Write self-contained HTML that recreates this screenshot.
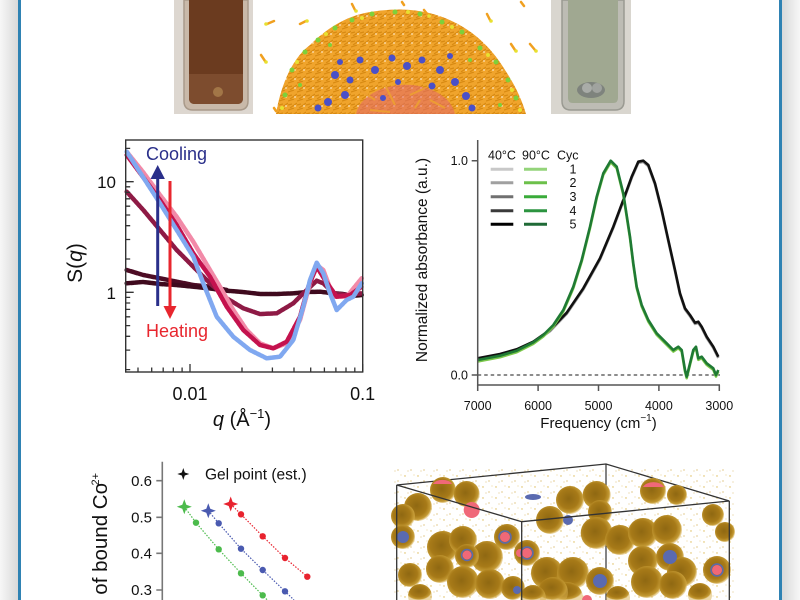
<!DOCTYPE html>
<html><head><meta charset="utf-8"><style>
html,body{margin:0;padding:0;background:#fff;width:800px;height:600px;overflow:hidden;}
svg{display:block;font-family:"Liberation Sans",Arial,sans-serif;overflow:hidden;}
</style></head><body>
<svg width="800" height="600" viewBox="0 0 800 600" xmlns="http://www.w3.org/2000/svg">
<defs>
<linearGradient id="shL" x1="0" x2="1" y1="0" y2="0"><stop offset="0" stop-color="#f7f7f7"/><stop offset="1" stop-color="#d9d9d9"/></linearGradient>
<linearGradient id="shR" x1="0" x2="1" y1="0" y2="0"><stop offset="0" stop-color="#d9d9d9"/><stop offset="1" stop-color="#f7f7f7"/></linearGradient>
<radialGradient id="sg" cx="0.45" cy="0.45" r="0.55"><stop offset="0" stop-color="#8f6812"/><stop offset="0.65" stop-color="#a77a18"/><stop offset="0.9" stop-color="#c49a34"/><stop offset="1" stop-color="#d8b050" stop-opacity="0.5"/></radialGradient>
<pattern id="dots" width="13" height="11" patternUnits="userSpaceOnUse"><circle cx="2" cy="3" r="0.7" fill="#d8b040"/><circle cx="8" cy="8" r="0.6" fill="#caa030"/><circle cx="11" cy="2" r="0.5" fill="#e0c060"/><circle cx="5" cy="9" r="0.5" fill="#d0a840"/></pattern>
<pattern id="mol" width="9" height="9" patternUnits="userSpaceOnUse"><rect width="9" height="9" fill="#f0a42c"/><path d="M0 2 L6 0 M2 9 L9 4 M0 6 L4 5" stroke="#d88a12" stroke-width="1.2"/><circle cx="7" cy="7" r="0.9" fill="#fff" opacity="0.7"/></pattern>
<clipPath id="molclip"><rect x="254" y="0" width="290" height="114"/></clipPath>
</defs>
<rect width="800" height="600" fill="#fff"/>
<rect x="0" y="0" width="18" height="600" fill="url(#shL)"/>
<rect x="782" y="0" width="18" height="600" fill="url(#shR)"/>
<rect x="18" y="0" width="3" height="600" fill="#2f82b3"/>
<rect x="779" y="0" width="3" height="600" fill="#2f82b3"/>

<!-- top: left vial -->
<rect x="174" y="0" width="79" height="114" fill="#ddd7d0"/>
<path d="M184,0 V101 Q184,110 193,110 H239 Q248,110 248,101 V0 Z" fill="#c9b9a9" stroke="#a99a8a" stroke-width="1.5"/>
<path d="M189,0 V98 Q189,104 195,104 H237 Q243,104 243,98 V0 Z" fill="#6b3b1f"/>
<path d="M189,74 V98 Q189,104 195,104 H237 Q243,104 243,98 V74 Z" fill="#7d4c2e"/>
<circle cx="218" cy="92" r="5" fill="#c8a060" opacity="0.5"/>
<!-- top: molecule -->
<g clip-path="url(#molclip)">
<path d="M276,114 C280,90 290,60 310,45 C325,30 345,16 370,12 C395,8 420,8 445,18 C470,28 490,45 505,70 C515,85 522,100 526,114 Z" fill="url(#mol)"/>
<path d="M356,114 A50,34 0 0 1 455,114 Z" fill="#e4686e" opacity="0.55"/>
<g fill="#4a50c8">
<circle cx="335" cy="75" r="4"/><circle cx="345" cy="95" r="4"/><circle cx="360" cy="60" r="3.5"/><circle cx="375" cy="70" r="4"/><circle cx="392" cy="58" r="3.5"/><circle cx="407" cy="66" r="4"/><circle cx="422" cy="60" r="3.5"/><circle cx="440" cy="70" r="4"/><circle cx="455" cy="82" r="4"/><circle cx="466" cy="96" r="4"/><circle cx="328" cy="102" r="4"/><circle cx="350" cy="80" r="3.5"/><circle cx="432" cy="86" r="3.5"/><circle cx="472" cy="108" r="3.5"/><circle cx="318" cy="108" r="3.5"/><circle cx="383" cy="98" r="3"/><circle cx="340" cy="62" r="3"/><circle cx="450" cy="56" r="3"/><circle cx="398" cy="82" r="3"/>
</g>
<g stroke="#eea030" stroke-width="2" opacity="0.9">
<path d="M360 90 L375 100 M385 85 L395 105 M410 95 L425 88 M430 100 L445 108 M370 110 L390 112 M415 108 L420 100"/>
</g>
<g fill="#7ed03a">
<circle cx="292" cy="70" r="2.5"/><circle cx="305" cy="52" r="2.5"/><circle cx="318" cy="40" r="2.5"/><circle cx="335" cy="28" r="2.5"/><circle cx="352" cy="20" r="2.5"/><circle cx="372" cy="14" r="2.5"/><circle cx="395" cy="12" r="2.5"/><circle cx="420" cy="14" r="2.5"/><circle cx="442" cy="22" r="2.5"/><circle cx="462" cy="32" r="2.5"/><circle cx="480" cy="48" r="2.5"/><circle cx="496" cy="62" r="2.5"/><circle cx="508" cy="80" r="2.5"/><circle cx="516" cy="98" r="2.5"/><circle cx="285" cy="95" r="2.5"/><circle cx="300" cy="85" r="2"/><circle cx="500" cy="105" r="2"/><circle cx="470" cy="60" r="2"/><circle cx="330" cy="45" r="2"/>
</g>
<g fill="#e8e030">
<circle cx="297" cy="62" r="2"/><circle cx="326" cy="34" r="2"/><circle cx="362" cy="18" r="2"/><circle cx="408" cy="12" r="2"/><circle cx="452" cy="27" r="2"/><circle cx="488" cy="55" r="2"/><circle cx="512" cy="90" r="2"/><circle cx="282" cy="108" r="2"/><circle cx="520" cy="110" r="2"/>
</g>
<g stroke="#f0a020" stroke-width="2.5" stroke-linecap="round">
<path d="M267 24 L274 21 M300 24 L306 21 M352 4 L355 10 M424 10 L428 15 M487 14 L490 20 M511 44 L515 50 M530 44 L535 50 M261 55 L265 61 M402 2 L404 5 M521 2 L524 6 M274 108 L276 111"/>
</g>
<g fill="#e8e030"><circle cx="266" cy="24" r="1.8"/><circle cx="307" cy="21" r="1.8"/><circle cx="356" cy="11" r="1.8"/><circle cx="429" cy="16" r="1.8"/><circle cx="491" cy="21" r="1.8"/><circle cx="516" cy="51" r="1.8"/><circle cx="536" cy="51" r="1.8"/><circle cx="266" cy="62" r="1.8"/></g>
</g>
<!-- top: right vial -->
<rect x="551" y="0" width="80" height="114" fill="#d9d6cf"/>
<path d="M562,0 V101 Q562,110 571,110 H615 Q624,110 624,101 V0 Z" fill="#bdbcb4" stroke="#9a9a92" stroke-width="1.5"/>
<path d="M568,0 V98 Q568,103 573,103 H613 Q618,103 618,98 V0 Z" fill="#a0a891"/>
<ellipse cx="591" cy="90" rx="14" ry="8" fill="#7e837d"/>
<ellipse cx="587" cy="88" rx="5" ry="5" fill="#a9aca8"/>
<ellipse cx="597" cy="88" rx="5" ry="5" fill="#a0a39f"/>

<!-- ===== Panel SAXS ===== -->
<g fill="none" stroke-linecap="round" stroke-linejoin="round" stroke-width="4.5" stroke-dasharray="3 1.2">
<polyline stroke="#4d0c25" points="126.7,270 143.3,275 160,278.3 176.7,281.7 193.3,285 210,286.7 226.7,290"/>
<polyline stroke="#3f0a1e" points="126.7,283.3 143,282 160,284 176,285 193.3,286.7 210,288.5 226.7,290.7 243,292 260,294 277,294 293.3,293.3 307,292 320,291.7 331,293 343.3,294 352,296 361.7,295"/>
<polyline stroke="#8e1a45" points="126.7,191.7 143.3,210 160,230 176.7,250 193.3,266.7 210,283.3 226.7,298.3 243.3,308.3 260,314 276.7,313.3 293.3,303.3 303.3,293.3 316.7,280.7 323.3,283.3 333.3,293.3 346.7,295 361.7,293.3"/>
<polyline stroke="#f28aa8" points="126.7,151.7 143,172 160,195 176.7,216.7 193.3,241.7 210,270 220,286.7 233.3,310 246.7,330 260,343.3 273.3,348.3 286.7,343.3 300,320 310,283.3 316.7,265 323.3,270 333.3,296.7 346.7,296.7 361.7,278.3"/>
<polyline stroke="#c4124e" points="126.7,155 143,177 160,200 176.7,225 193.3,253.3 210,276.7 226.7,306.7 243.3,330 260,345 273.3,348.3 286.7,341.7 300,316.7 308.3,286.7 316.7,266.7 325,280 336.7,296.7 350,295 361.7,286.7"/>
<polyline stroke="#80a8f0" points="126.7,151.7 143,177 160,203.3 176.7,230 193.3,256.7 203.3,283.3 216.7,316.7 233.3,336.7 250,350 266.7,358.3 280,356.7 293.3,340 303.3,306.7 310,280 316.7,262.7 323.3,273.3 330,293.3 336.7,310 346.7,300 353.3,296.7 361.7,283.3"/>
</g>
<!-- arrows -->
<line x1="157.7" y1="306" x2="157.7" y2="176" stroke="#2a2f8a" stroke-width="3"/>
<polygon points="157.7,165 150.5,179 164.9,179" fill="#2a2f8a"/>
<line x1="170" y1="181" x2="170" y2="308" stroke="#e8262e" stroke-width="3"/>
<polygon points="170,319 163.5,306 176.5,306" fill="#e8262e"/>
<text x="146" y="160" font-size="18" fill="#2a2f8a">Cooling</text>
<text x="146" y="337" font-size="18" fill="#e8262e">Heating</text>
<!-- box -->
<rect x="125.7" y="140" width="237" height="232" fill="none" stroke="#333" stroke-width="1.4"/>
<g stroke="#333" stroke-width="1.3">
<path d="M190,372 v-8 M362.7,372 v-8"/>
<path d="M138,372 v-4.5 M151.7,372 v-4.5 M163.2,372 v-4.5 M173.3,372 v-4.5 M182.1,372 v-4.5 M242,372 v-4.5 M272.4,372 v-4.5 M294,372 v-4.5 M310.7,372 v-4.5 M324.4,372 v-4.5 M335.9,372 v-4.5 M346,372 v-4.5 M354.8,372 v-4.5"/>
<path d="M125.7,181.7 h8 M125.7,292.3 h8"/>
<path d="M125.7,148.4 h4.5 M125.7,259 h4.5 M125.7,239.5 h4.5 M125.7,225.7 h4.5 M125.7,215 h4.5 M125.7,206.2 h4.5 M125.7,198.8 h4.5 M125.7,192.4 h4.5 M125.7,186.8 h4.5 M125.7,297.4 h4.5 M125.7,303 h4.5 M125.7,309.4 h4.5 M125.7,316.8 h4.5 M125.7,325.6 h4.5 M125.7,336.3 h4.5 M125.7,350.1 h4.5 M125.7,369.6 h4.5"/>
</g>
<text x="116" y="188" font-size="17" text-anchor="end" fill="#111">10</text>
<text x="116" y="299" font-size="17" text-anchor="end" fill="#111">1</text>
<text x="190" y="400" font-size="18" text-anchor="middle" fill="#111">0.01</text>
<text x="362.7" y="400" font-size="18" text-anchor="middle" fill="#111">0.1</text>
<text transform="translate(82,263) rotate(-90)" font-size="21" text-anchor="middle" fill="#111">S(<tspan font-style="italic">q</tspan>)</text>
<text x="242" y="426" font-size="20" text-anchor="middle" fill="#111"><tspan font-style="italic">q</tspan> (Å<tspan font-size="13" dy="-8">−1</tspan><tspan dy="8">)</tspan></text>

<!-- ===== Panel IR ===== -->
<line x1="477.7" y1="375" x2="720" y2="375" stroke="#666" stroke-width="1.5" stroke-dasharray="3.5 3"/>
<g fill="none" stroke-width="2.6" stroke-linejoin="round">
<polyline stroke="#9a9a9a" transform="translate(0,1.2)" points="477.7,358.3 500,354 516.7,349.3 533.3,341.7 550,330 566.7,312.7 583.3,288.3 600,258.3 613.3,226.7 623.3,200 631.7,176.7 638.3,161.7 643.3,160.7 648.3,165 655,183.3 661.7,210 668.3,240 675,270 680,293.3 685,308.3 690,315 695,322.7 698.3,321.7 701.7,326.7 706.7,336.7 713.3,346.7 718.3,356.7"/>
<polyline stroke="#111" points="477.7,358.3 500,354 516.7,349.3 533.3,341.7 550,330 566.7,312.7 583.3,288.3 600,258.3 613.3,226.7 623.3,200 631.7,176.7 638.3,161.7 643.3,160.7 648.3,165 655,183.3 661.7,210 668.3,240 675,270 680,293.3 685,308.3 690,315 695,322.7 698.3,321.7 701.7,326.7 706.7,336.7 713.3,346.7 718.3,356.7"/>
<polyline stroke="#7cc84a" transform="translate(0,1.5)" points="477.7,360 500,355.7 516.7,350.7 533.3,342.3 543.3,335 553.3,325 563.3,310 573.3,286.7 581.7,260 590,226.7 596.7,196.7 603.3,173.3 610.7,160.7 616.7,166.7 623.3,193.3 630,236.7 633.3,263.3 636.7,286.7 641.7,305 648.3,320 656.7,333.3 666.7,343.3 673.3,350 678.3,346.7 681.7,350 685,370 686.7,376.7 690,363.3 693.3,350 696,346.7 698.3,358.3 701.7,356.7 706.7,363.3 713.3,368.3 716,375 718.3,370"/>
<polyline stroke="#1f7a34" points="477.7,360 500,355.7 516.7,350.7 533.3,342.3 543.3,335 553.3,325 563.3,310 573.3,286.7 581.7,260 590,226.7 596.7,196.7 603.3,173.3 610.7,160.7 616.7,166.7 623.3,193.3 630,236.7 633.3,263.3 636.7,286.7 641.7,305 648.3,320 656.7,333.3 666.7,343.3 673.3,350 678.3,346.7 681.7,350 685,370 686.7,376.7 690,363.3 693.3,350 696,346.7 698.3,358.3 701.7,356.7 706.7,363.3 713.3,368.3 716,375 718.3,370"/>
</g>
<g stroke="#555" stroke-width="1.5" fill="none">
<path d="M477.7,140 V385 H720"/>
<path d="M477.7,385 v6 M538.1,385 v6 M598.5,385 v6 M658.9,385 v6 M719.3,385 v6"/>
<path d="M477.7,160.7 h-6 M477.7,375 h-6"/>
</g>
<g font-size="12.5" fill="#111">
<text x="468" y="165" text-anchor="end">1.0</text>
<text x="468" y="379.5" text-anchor="end">0.0</text>
<text x="477.7" y="410" text-anchor="middle">7000</text>
<text x="538.1" y="410" text-anchor="middle">6000</text>
<text x="598.5" y="410" text-anchor="middle">5000</text>
<text x="658.9" y="410" text-anchor="middle">4000</text>
<text x="719.3" y="410" text-anchor="middle">3000</text>
</g>
<text x="598.5" y="428" font-size="15" text-anchor="middle" fill="#111">Frequency (cm<tspan font-size="10" dy="-7">−1</tspan><tspan dy="7">)</tspan></text>
<text transform="translate(427,260) rotate(-90)" font-size="15.5" text-anchor="middle" fill="#111">Normalized absorbance (a.u.)</text>
<!-- legend -->
<g font-size="12.5" fill="#111">
<text x="488" y="159.5">40°C</text>
<text x="522" y="159.5">90°C</text>
<text x="557" y="159.5">Cyc</text>
<text x="573" y="173.5" text-anchor="middle">1</text>
<text x="573" y="187" text-anchor="middle">2</text>
<text x="573" y="201" text-anchor="middle">3</text>
<text x="573" y="215" text-anchor="middle">4</text>
<text x="573" y="228.5" text-anchor="middle">5</text>
</g>
<g stroke-width="3">
<line x1="490.7" x2="513.3" y1="169.3" y2="169.3" stroke="#c8c8c8"/>
<line x1="490.7" x2="513.3" y1="182.7" y2="182.7" stroke="#a0a0a0"/>
<line x1="490.7" x2="513.3" y1="196.7" y2="196.7" stroke="#707070"/>
<line x1="490.7" x2="513.3" y1="210.7" y2="210.7" stroke="#3a3a3a"/>
<line x1="490.7" x2="513.3" y1="224.3" y2="224.3" stroke="#000"/>
<line x1="524" x2="547" y1="169.3" y2="169.3" stroke="#94d47a"/>
<line x1="524" x2="547" y1="182.7" y2="182.7" stroke="#6cc04a"/>
<line x1="524" x2="547" y1="196.7" y2="196.7" stroke="#3aab3a"/>
<line x1="524" x2="547" y1="210.7" y2="210.7" stroke="#2c9440"/>
<line x1="524" x2="547" y1="224.3" y2="224.3" stroke="#1f6a36"/>
</g>

<!-- ===== Panel bottom-left ===== -->
<g stroke="#777" stroke-width="1.6" fill="none">
<path d="M162.3,461.7 V600"/>
<path d="M162.3,480.7 h-6 M162.3,517.3 h-6 M162.3,553.3 h-6 M162.3,590 h-6"/>
</g>
<g font-size="15" fill="#111" text-anchor="end">
<text x="152" y="486">0.6</text>
<text x="152" y="522.5">0.5</text>
<text x="152" y="558.5">0.4</text>
<text x="152" y="595">0.3</text>
</g>
<text transform="translate(107,483) rotate(-90)" font-size="20.5" text-anchor="end" fill="#111">of bound Co</text>
<text transform="translate(99,473) rotate(-90)" font-size="11" text-anchor="end" fill="#111">2+</text>
<path d="M183.3,468 L184.8,472.5 L189.3,474 L184.8,475.5 L183.3,480 L181.8,475.5 L177.3,474 L181.8,472.5 Z" fill="#111"/>
<text x="205" y="479.5" font-size="15.5" fill="#111">Gel point (est.)</text>
<g stroke-width="1.2" stroke-dasharray="1.5 1.5" fill="none">
<polyline stroke="#4cbb4c" points="184.3,506.7 196,522.7 218.7,549.3 241,573.3 262.7,595.3 267.3,600"/>
<polyline stroke="#4a5ab0" points="208.3,510.7 218.7,523.3 241,548.7 262.7,570 285,591.3 294,600"/>
<polyline stroke="#e8222e" points="230.7,504 241,514.3 262.7,536.3 285,558 307.3,576.7"/>
</g>
<g fill="#4cbb4c"><circle cx="196" cy="522.7" r="3.2"/><circle cx="218.7" cy="549.3" r="3.2"/><circle cx="241" cy="573.3" r="3.2"/><circle cx="262.7" cy="595.3" r="3.2"/>
<path d="M184.3,499.2 L186.3,504.7 L191.8,506.7 L186.3,508.7 L184.3,514.2 L182.3,508.7 L176.8,506.7 L182.3,504.7 Z"/></g>
<g fill="#4a5ab0"><circle cx="218.7" cy="523.3" r="3.2"/><circle cx="241" cy="548.7" r="3.2"/><circle cx="262.7" cy="570" r="3.2"/><circle cx="285" cy="591.3" r="3.2"/>
<path d="M208.3,503.2 L210.3,508.7 L215.8,510.7 L210.3,512.7 L208.3,518.2 L206.3,512.7 L200.8,510.7 L206.3,508.7 Z"/></g>
<g fill="#e8222e"><circle cx="241" cy="514.3" r="3.2"/><circle cx="262.7" cy="536.3" r="3.2"/><circle cx="285" cy="558" r="3.2"/><circle cx="307.3" cy="576.7" r="3.2"/>
<path d="M230.7,496.5 L232.7,502 L238.2,504 L232.7,506 L230.7,511.5 L228.7,506 L223.2,504 L228.7,502 Z"/></g>

<!-- ===== Panel bottom-right (simulation box) ===== -->
<rect x="393" y="466" width="342" height="134" fill="url(#dots)" opacity="0.9"/>
<path d="M396.7,485 L606,464 L729.3,501" fill="none" stroke="#333" stroke-width="1.3"/>
<line x1="606" y1="464" x2="606" y2="600" stroke="#333" stroke-width="1.2"/>
<g fill="url(#sg)">
<circle cx="443" cy="490" r="13"/><circle cx="466.7" cy="494" r="13"/><circle cx="418" cy="507" r="14"/><circle cx="403" cy="516" r="12"/><circle cx="403" cy="537" r="12"/>
<circle cx="570" cy="500" r="14"/><circle cx="596.7" cy="495" r="14"/><circle cx="550" cy="520" r="14"/><circle cx="600" cy="512" r="12"/>
<circle cx="653" cy="491" r="13"/><circle cx="677" cy="495" r="10"/><circle cx="713" cy="515" r="11"/><circle cx="725" cy="532" r="10"/>
<circle cx="596.7" cy="533" r="16"/><circle cx="620" cy="540" r="15"/><circle cx="643" cy="533" r="15"/><circle cx="667" cy="530" r="15"/>
<circle cx="643" cy="561" r="15"/><circle cx="670" cy="557" r="14"/><circle cx="682" cy="572" r="15"/><circle cx="717" cy="570" r="14"/>
<circle cx="443" cy="547" r="16"/><circle cx="463" cy="540" r="14"/><circle cx="487" cy="557" r="16"/><circle cx="507" cy="537" r="13"/><circle cx="527" cy="553" r="13"/><circle cx="467" cy="556" r="12"/>
<circle cx="440" cy="569" r="14"/><circle cx="547" cy="573" r="16"/><circle cx="573" cy="573" r="16"/><circle cx="600" cy="581" r="14"/>
<circle cx="463" cy="582" r="16"/><circle cx="490" cy="584" r="15"/><circle cx="513" cy="588" r="12"/><circle cx="647" cy="582" r="16"/><circle cx="673" cy="585" r="14"/><circle cx="410" cy="575" r="12"/>
<path d="M551.13,600 A16,16 0 1 1 582.87,600 Z"/>
<path d="M540.31,600 A15,15 0 1 1 565.69,600 Z"/>
<path d="M520.15,600 A13,13 0 1 1 545.85,600 Z"/>
<path d="M408.69,600 A12,12 0 1 1 431.31,600 Z"/>
<path d="M689.09,600 A12,12 0 1 1 710.91,600 Z"/>
<path d="M606.17,600 A12,12 0 1 1 629.83,600 Z"/>
</g>
<g fill="#f06878">
<path d="M433,484 A10,6 0 0 1 452,484 Z"/><circle cx="471.7" cy="510" r="8"/><path d="M643,487 A11,7 0 0 1 664,487 Z"/>
<circle cx="505" cy="537" r="5"/><circle cx="527" cy="553" r="5"/><circle cx="520" cy="553" r="4"/><circle cx="467" cy="555" r="4.5"/><circle cx="717" cy="570" r="5"/>
<path d="M582,600 A5,5 0 0 1 592,600 Z"/>
</g>
<g fill="#5a6ab0">
<circle cx="403" cy="537" r="6"/><ellipse cx="533" cy="497" rx="8" ry="3"/><circle cx="568" cy="520" r="5"/><circle cx="670" cy="557" r="7"/><circle cx="600" cy="581" r="7"/><circle cx="517" cy="590" r="4"/>
</g>
<g stroke="#5a6ab0" stroke-width="1.5" fill="none">
<circle cx="505" cy="537" r="6"/><circle cx="527" cy="553" r="6"/><circle cx="467" cy="555" r="5.5"/><circle cx="717" cy="570" r="6"/>
</g>
<path d="M729.3,501 L521.7,521.7 L396.7,485 M396.7,485 V600 M521.7,521.7 V600 M729.3,501 V600" fill="none" stroke="#333" stroke-width="1.3"/>
</svg>
</body></html>
